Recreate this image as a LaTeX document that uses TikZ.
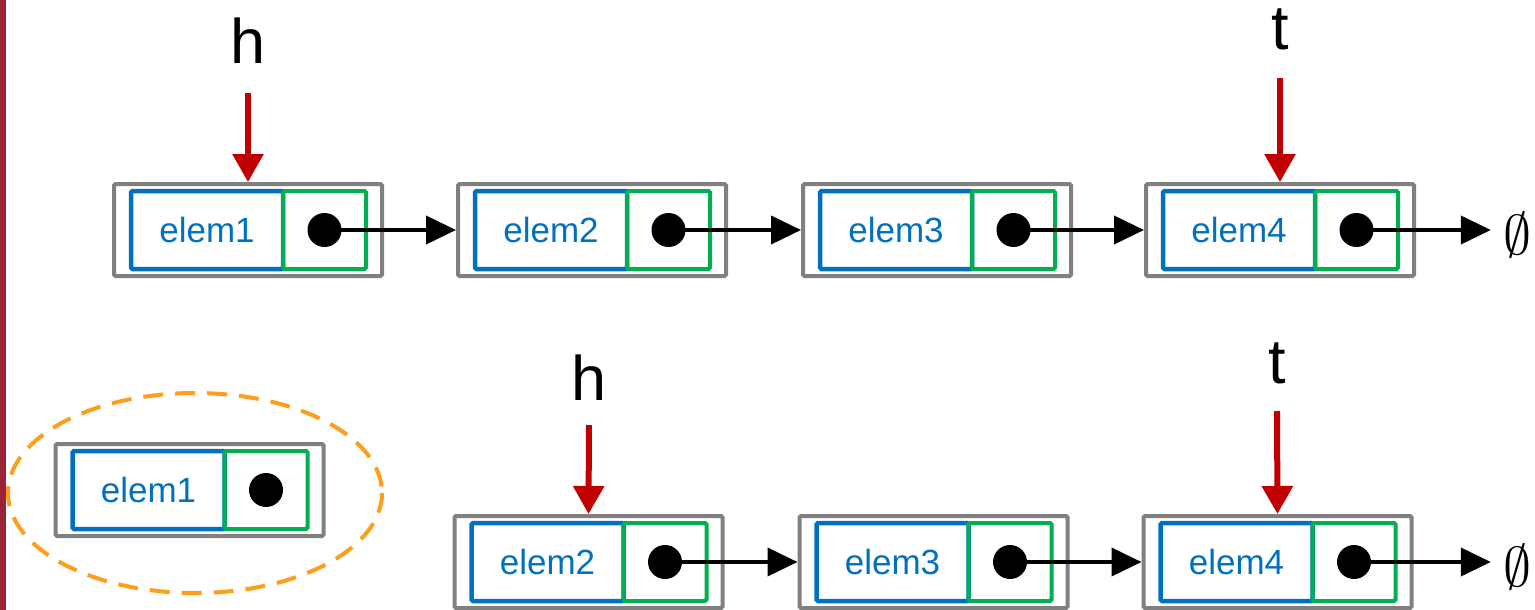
\documentclass[tikz,border=0pt]{standalone}
\usepackage{graphicx}
\usepackage{fontspec}
\setmainfont{Liberation Sans}
\usetikzlibrary{arrows.meta,calc}
\definecolor{cellgray}{HTML}{808080}
\definecolor{valblue}{HTML}{0070C0}
\definecolor{ptrgreen}{HTML}{00B050}
\definecolor{ptrred}{HTML}{C00000}
\definecolor{poporange}{HTML}{FF9E1B}
\definecolor{sidebar}{HTML}{9B2338}

\tikzset{
  cellbox/.style={draw=cellgray, line width=4pt, rounded corners=1.5pt,
    minimum width=268pt, minimum height=92pt, inner sep=0pt},
  valbox/.style={draw=valblue, line width=4.5pt, rounded corners=1.5pt,
    minimum width=152pt, minimum height=78pt, inner sep=0pt,
    text=valblue, font=\fontsize{35}{40}\selectfont},
  ptrbox/.style={draw=ptrgreen, line width=4pt, rounded corners=1.5pt,
    minimum width=83pt, minimum height=78pt, inner sep=0pt},
  ptrdot/.style={circle, fill=black, minimum size=34pt, inner sep=0pt},
  link/.style={line width=4pt, -{Triangle[length=30pt,width=28pt]}},
  refarrow/.style={ptrred, line width=6pt, -{Triangle[length=28pt,width=30pt]}},
  reflabel/.style={inner sep=0pt, anchor=base, font=\fontsize{63}{70}\selectfont},
  nillabel/.style={inner sep=0pt},
  popped/.style={draw=poporange, line width=4pt, dash pattern=on 20pt off 12pt}
}

% one list cell: outer frame, value field, pointer field with its dot
\newcommand\listcell[4]{%
  \node[cellbox] (#1) at (#2,#3) {};
  \node[valbox] (#1v) at ($(#1.center)+(-41,0)$) {#4};
  \node[ptrbox] (#1p) at ($(#1.center)+(76.5,0)$) {};
  \node[ptrdot] (#1d) at (#1p.center) {};
}
\newcommand\nilsym{\scalebox{5.6}{$\emptyset$}}

\begin{document}
\begin{tikzpicture}[x=1pt, y=-1pt]
  \useasboundingbox (0,0) rectangle (1535,610);
  \fill[sidebar] (0,0) rectangle (6,610);

  % list before removing the head
  \listcell{a1}{248}{230}{elem1}
  \listcell{a2}{592}{230}{elem2}
  \listcell{a3}{937}{230}{elem3}
  \listcell{a4}{1280}{230}{elem4}
  \node[nillabel] (anil) at (1517,235) {\nilsym};
  \draw[link] (a1d.center) -- (a2.west);
  \draw[link] (a2d.center) -- (a3.west);
  \draw[link] (a3d.center) -- (a4.west);
  \draw[link, shorten >=12pt] (a4d.center) -- (a4d.center -| anil.west);

  \node[reflabel] (ah) at (248,64) {h};
  \node[reflabel] (at) at (1280,50) {t};
  \coordinate (ahs) at (248,93);
  \coordinate (ats) at (1280,78);
  \draw[refarrow] (ahs) -- (a1.north);
  \draw[refarrow] (ats) -- (a4.north);

  % removed cell
  \listcell{r1}{189.5}{490}{elem1}
  \draw[popped] (195,493) ellipse [x radius=187, y radius=100];

  % list after removing the head
  \listcell{b2}{588.5}{562}{elem2}
  \listcell{b3}{933.5}{562}{elem3}
  \listcell{b4}{1277.5}{562}{elem4}
  \node[nillabel] (bnil) at (1517,567) {\nilsym};
  \draw[link] (b2d.center) -- (b3.west);
  \draw[link] (b3d.center) -- (b4.west);
  \draw[link, shorten >=12pt] (b4d.center) -- (b4d.center -| bnil.west);

  \node[reflabel] (bh) at (589,400) {h};
  \node[reflabel] (bt) at (1277,383) {t};
  \coordinate (bhs) at (589,425);
  \coordinate (bts) at (1277,411);
  \draw[refarrow] (bhs) -- (b2.north);
  \draw[refarrow] (bts) -- (b4.north);
\end{tikzpicture}
\end{document}
